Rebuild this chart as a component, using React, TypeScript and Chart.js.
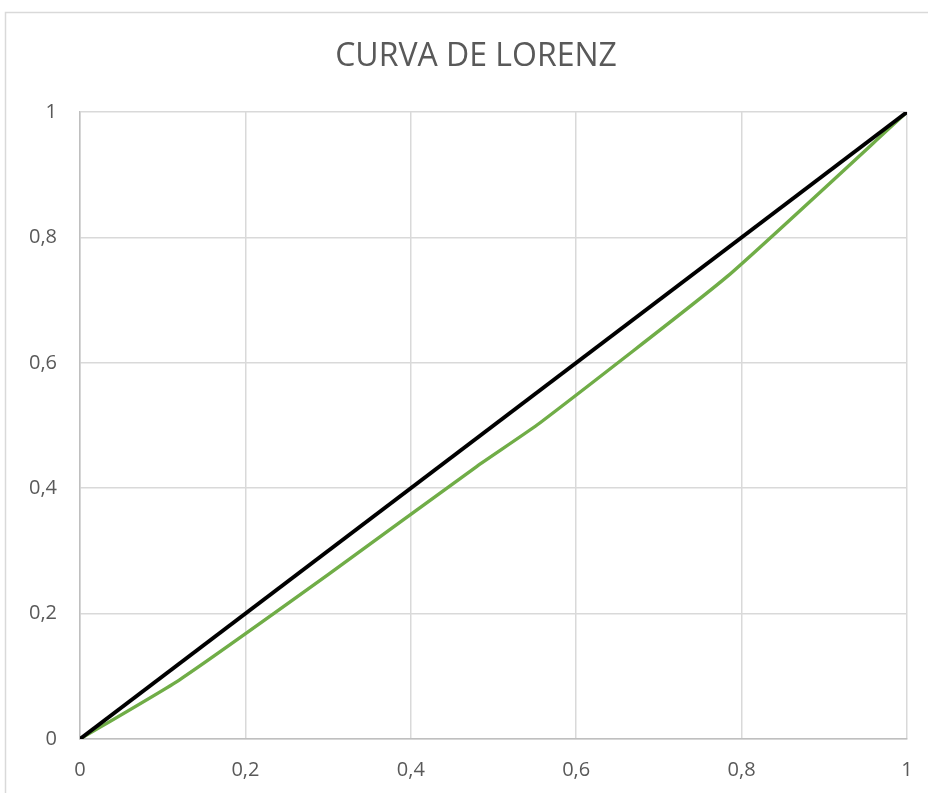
import React, { useEffect, useRef } from "react";
import { Chart, registerables } from "chart.js";

Chart.register(...registerables);

const titleText = "CURVA DE LORENZ";
const equalityX = [0, 1];
const equalityY = [0, 1];
const lorenzX = [0, 0.12, 0.3, 0.48, 0.556, 0.782, 1];
const lorenzY = [0, 0.094, 0.262, 0.435, 0.504, 0.737, 1];
const tickValues = [0, 0.2, 0.4, 0.6, 0.8, 1];

const fmt = (v: number) => String(Math.round(v * 10) / 10).replace(".", ",");

const frameAndTitle = {
  id: "frameAndTitle",
  beforeDraw(chart: any) {
    const ctx = chart.ctx;
    ctx.save();
    ctx.fillStyle = "#ffffff";
    ctx.fillRect(0, 0, chart.width, chart.height);
    ctx.strokeStyle = "#d9d9d9";
    ctx.lineWidth = 1.5;
    ctx.beginPath();
    ctx.moveTo(5.5, chart.height);
    ctx.lineTo(5.5, 12.5);
    ctx.lineTo(chart.width, 12.5);
    ctx.stroke();
    ctx.fillStyle = "#595959";
    ctx.font = "400 32px 'Open Sans'";
    ctx.textAlign = "center";
    ctx.textBaseline = "middle";
    ctx.fillText(titleText, 476, 57);
    ctx.restore();
  },
};

export default function App() {
  const ref = useRef<HTMLCanvasElement>(null);
  useEffect(() => {
    const chart = new Chart(ref.current!, {
      type: "scatter",
      data: {
        datasets: [
          {
            label: "Igualdad",
            data: equalityX.map((x, i) => ({ x, y: equalityY[i] })),
            showLine: true,
            borderColor: "#000000",
            borderWidth: 3.8,
            pointRadius: 0,
            tension: 0,
          },
          {
            label: "Lorenz",
            data: lorenzX.map((x, i) => ({ x, y: lorenzY[i] })),
            showLine: true,
            borderColor: "#70ad47",
            borderWidth: 3.4,
            pointRadius: 0,
            tension: 0.15,
          },
        ],
      },
      options: {
        animation: false,
        responsive: false,
        layout: { padding: { left: 0, right: 21, top: 112, bottom: 0 } },
        plugins: { legend: { display: false }, title: { display: false }, tooltip: { enabled: false } },
        scales: {
          x: {
            type: "linear",
            min: 0,
            max: 1,
            afterBuildTicks: (s: any) => { s.ticks = tickValues.map((v) => ({ value: v })); },
            afterFit: (s: any) => { s.height = 54; s.paddingLeft = 0; s.paddingRight = 0; },
            grid: { color: "#d9d9d9", lineWidth: 1.5, drawTicks: false },
            border: { color: "#bfbfbf", width: 1.5 },
            ticks: {
              padding: 19,
              color: "#595959",
              font: { family: "'Open Sans'", size: 20 },
              maxRotation: 0,
              callback: (v: any) => fmt(Number(v)),
            },
          },
          y: {
            type: "linear",
            min: 0,
            max: 1,
            afterBuildTicks: (s: any) => { s.ticks = tickValues.map((v) => ({ value: v })); },
            afterFit: (s: any) => { s.width = 80; s.paddingTop = 0; s.paddingBottom = 0; },
            grid: { color: "#d9d9d9", lineWidth: 1.5, drawTicks: false },
            border: { color: "#bfbfbf", width: 1.5 },
            ticks: {
              padding: 23,
              color: "#595959",
              font: { family: "'Open Sans'", size: 20 },
              callback: (v: any) => fmt(Number(v)),
            },
          },
        },
      },
      plugins: [frameAndTitle],
    });
    return () => chart.destroy();
  }, []);
  return (
    <div style={{ position: "fixed", left: 0, top: 0, width: 928, height: 793, background: "#fff" }}>
      <canvas ref={ref} width={928} height={793} style={{ display: "block" }} />
    </div>
  );
}
